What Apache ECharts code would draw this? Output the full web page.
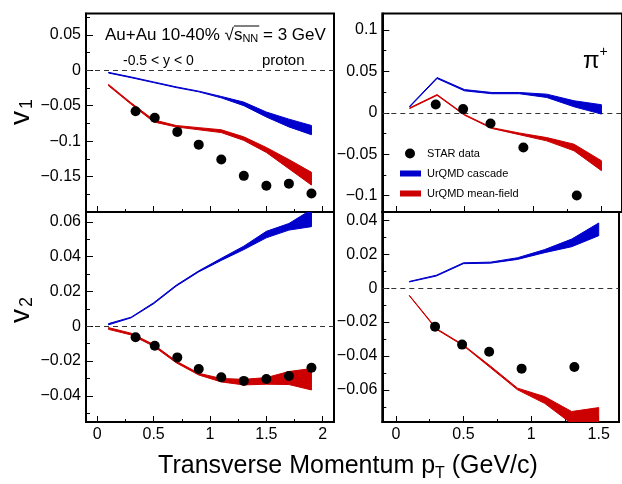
<!DOCTYPE html>
<html><head><meta charset="utf-8">
<script src="https://cdn.jsdelivr.net/npm/echarts@6/dist/echarts.min.js"></script>
<style>html,body{margin:0;padding:0;background:#fff}#c{width:622px;height:484px}</style>
</head><body><div id="c"></div>
<script>
// ---------------- data ----------------
const protonX = [0.1,0.3,0.5,0.7,0.9,1.1,1.3,1.5,1.7,1.9];
const pionX   = [0.1,0.3,0.5,0.7,0.9,1.1,1.3,1.5];

const starProtonPt = [0.34,0.51,0.71,0.9,1.1,1.3,1.5,1.7,1.9];
const starProtonV1 = [-0.058,-0.067,-0.087,-0.105,-0.126,-0.149,-0.163,-0.160,-0.174];
const starProtonV2 = [-0.0063,-0.0112,-0.0179,-0.0246,-0.0293,-0.0314,-0.0303,-0.0286,-0.0238];
const starPionPt = [0.29,0.49,0.69,0.93,1.32];
const starPionV1 = [0.010,0.0044,-0.0129,-0.042,-0.100];
const starPionV2 = [-0.0227,-0.0333,-0.0375,-0.0475,-0.0465];

const cascProtonV1Hi = [-0.003,-0.0095,-0.0165,-0.0235,-0.0295,-0.037,-0.045,-0.059,-0.069,-0.078];
const cascProtonV1Lo = [-0.004,-0.0105,-0.0175,-0.0245,-0.0305,-0.039,-0.050,-0.066,-0.080,-0.091];
const mfProtonV1Hi   = [-0.020,-0.046,-0.070,-0.078,-0.081,-0.084,-0.094,-0.109,-0.126,-0.144];
const mfProtonV1Lo   = [-0.022,-0.048,-0.073,-0.080,-0.084,-0.088,-0.099,-0.116,-0.139,-0.162];

const cascPionV1Hi = [0.008,0.0426,0.028,0.0245,0.0245,0.0225,0.0145,0.0097];
const cascPionV1Lo = [0.007,0.0414,0.0265,0.023,0.023,0.0185,0.0072,-0.0016];
const mfPionV1Hi   = [0.006,0.022,-0.002,-0.018,-0.0245,-0.030,-0.038,-0.058];
const mfPionV1Lo   = [0.005,0.021,-0.003,-0.019,-0.0265,-0.034,-0.046,-0.070];

const cascProtonV2Hi = [0.0015,0.0052,0.0135,0.0236,0.0318,0.039,0.046,0.0545,0.059,0.067];
const cascProtonV2Lo = [0.0008,0.0048,0.0129,0.023,0.0312,0.0378,0.044,0.0508,0.0552,0.0572];
const mfProtonV2Hi   = [-0.0008,-0.004,-0.0105,-0.020,-0.027,-0.030,-0.0305,-0.0295,-0.026,-0.0243];
const mfProtonV2Lo   = [-0.0018,-0.005,-0.0115,-0.021,-0.028,-0.032,-0.0337,-0.0333,-0.0335,-0.0366];

const cascPionV2Hi = [0.004,0.0077,0.015,0.0154,0.018,0.0228,0.029,0.0385];
const cascPionV2Lo = [0.0037,0.0072,0.0145,0.0148,0.017,0.021,0.0245,0.031];
const mfPionV2Hi   = [-0.0042,-0.0238,-0.0335,-0.046,-0.059,-0.064,-0.0728,-0.0705];
const mfPionV2Lo   = [-0.0045,-0.0243,-0.034,-0.047,-0.060,-0.068,-0.080,-0.082];

const legendNames = ['STAR data','UrQMD cascade','UrQMD mean-field'];

// ---------------- helpers ----------------
const FONT = '"Liberation Sans", Arial, sans-serif';
const BLUE = '#0000cc', RED = '#cc0000';
const mctx = document.createElement('canvas').getContext('2d');
function tw(t, size){ mctx.font = size + 'px ' + FONT; return mctx.measureText(t).width; }
function run(parts, x, y, align){
  const total = parts.reduce((s,p)=>s+tw(p[0],p[1]),0);
  let cx = align==='center' ? x-total/2 : x;
  const els=[], pos=[];
  parts.forEach(p=>{
    pos.push(cx);
    els.push({type:'text', x:cx, y:y+(p[2]||0), silent:true,
      style:{text:p[0], fontSize:p[1], fontFamily:FONT, fill:'#000', align:'left', verticalAlign:'middle'}});
    cx += tw(p[0],p[1]);
  });
  pos.push(cx);
  return {els, pos};
}
function fmt(step, min, max){
  return v => {
    if (Math.abs(v-min)<1e-9 || Math.abs(v-max)<1e-9) return '';
    const r=v/step; if (Math.abs(r-Math.round(r))>1e-6) return '';
    return String(+v.toFixed(4)).replace('-', '\u2212'); };
}
const grids = [
  {left:86, top:13.5, width:248, height:198.5},
  {left:382.3, top:13.5, width:241.5, height:198.5},
  {left:86, top:212, width:248, height:210},
  {left:382.3, top:212, width:241.5, height:210}
].map(g=>Object.assign({show:true, borderColor:'#000', borderWidth:2, backgroundColor:'transparent', containLabel:false}, g));

function xAx(i, min, max, showLabel, splitNumber){
  return {type:'value', gridIndex:i, min, max, splitNumber,
    axisLine:{show:true, onZero:false, lineStyle:{color:'#000', width:2}},
    axisTick:{show:true, inside:true, length:6, lineStyle:{color:'#000', width:1}},
    minorTick:{show:true, splitNumber:2, length:3, lineStyle:{color:'#000', width:1}},
    splitLine:{show:false}, minorSplitLine:{show:false},
    axisLabel:{show:showLabel, color:'#000', fontSize:16, fontFamily:FONT, margin:5, formatter:fmt(0.5, min, max)}};
}
function yAx(i, min, max, step, splitNumber){
  return {type:'value', gridIndex:i, min, max, splitNumber,
    axisLine:{show:true, onZero:false, lineStyle:{color:'#000', width:2}},
    axisTick:{show:true, inside:true, length:7, lineStyle:{color:'#000', width:1}},
    minorTick:{show:true, splitNumber:2, length:4, lineStyle:{color:'#000', width:1}},
    splitLine:{show:false}, minorSplitLine:{show:false},
    axisLabel:{show:true, color:'#000', fontSize:16, fontFamily:FONT, margin:5, formatter:fmt(step, min, max)}};
}
function band(name, gi, xs, lo, hi, color){
  return {type:'custom', name, xAxisIndex:gi, yAxisIndex:gi, clip:true, silent:true, z:2,
    data: xs.map((x,k)=>[x, lo[k], hi[k]]),
    encode:{x:0, y:[1,2]},
    renderItem(params, api){
      if (params.dataIndex!==0) return;
      const pts=[];
      for (let k=0;k<xs.length;k++) pts.push(api.coord([xs[k],hi[k]]));
      for (let k=xs.length-1;k>=0;k--) pts.push(api.coord([xs[k],lo[k]]));
      return {type:'polygon', shape:{points:pts}, style:{fill:color, stroke:color, lineWidth:1}};
    }};
}
function stars(gi, xs, ys){
  return {type:'scatter', name:legendNames[0], xAxisIndex:gi, yAxisIndex:gi, z:5,
    symbol:'circle', symbolSize:10, itemStyle:{color:'#000', opacity:1},
    data: xs.map((x,k)=>[x, ys[k]]),
    markLine:{silent:true, symbol:'none', label:{show:false}, z:1,
      lineStyle:{color:'#333', type:[5,4], width:1}, data:[{yAxis:0}]}};
}

// ---------------- texts ----------------
const gfx = [];
const l1 = run([['Au+Au 10-40% ',17],['\u221A',17],['s',17],['NN',11,4],[' = 3 GeV',17]], 105, 35, 'left');
gfx.push(...l1.els);
gfx.push({type:'line', silent:true, shape:{x1:l1.pos[2], y1:26, x2:l1.pos[4]+1, y2:26}, style:{stroke:'#000', lineWidth:1}});
gfx.push(...run([['-0.5 < y < 0',14]], 123, 61, 'left').els);
gfx.push(...run([['proton',15]], 262, 61, 'left').els);
gfx.push(...run([['\u03C0',24],['+',14,-9]], 583, 61, 'left').els);
// x title
gfx.push(...run([['Transverse Momentum p',25],['T',16,8],[' (GeV/c)',25]], 348, 466, 'center').els);
// y titles (rotated)
function ytitle(sub, cy){
  gfx.push({type:'text', x:21, y:cy, rotation:Math.PI/2, silent:true,
    style:{text:'v', fontSize:28, fontFamily:FONT, fill:'#000', align:'center', verticalAlign:'middle'}});
  gfx.push({type:'text', x:27, y:cy-14, rotation:Math.PI/2, silent:true,
    style:{text:sub, fontSize:18, fontFamily:FONT, fill:'#000', align:'center', verticalAlign:'middle'}});
}
ytitle('1', 118);
ytitle('2', 316);
// legend
gfx.push({type:'circle', silent:true, shape:{cx:410, cy:153.5, r:5}, style:{fill:'#000'}});
gfx.push({type:'rect', silent:true, shape:{x:400, y:170.5, width:21, height:6}, style:{fill:BLUE}});
gfx.push({type:'rect', silent:true, shape:{x:400, y:190.5, width:21, height:6}, style:{fill:RED}});
gfx.push(...run([[legendNames[0],11]], 427, 153.5, 'left').els);
gfx.push(...run([[legendNames[1],11]], 427, 173.5, 'left').els);
gfx.push(...run([[legendNames[2],11]], 427, 193.5, 'left').els);

const option = {
  animation:false,
  backgroundColor:'#fff',
  grid: grids,
  xAxis: [xAx(0,-0.1,2.1,false,5), xAx(1,-0.1,1.65,false,4), xAx(2,-0.1,2.1,true,5), xAx(3,-0.1,1.65,true,4)],
  yAxis: [yAx(0,-0.2,0.08,0.05,5), yAx(1,-0.12,0.12,0.05,5), yAx(2,-0.055,0.0656,0.02,6), yAx(3,-0.079,0.045,0.02,6)],
  series: [
    band(legendNames[1],0,protonX,cascProtonV1Lo,cascProtonV1Hi,BLUE),
    band(legendNames[2],0,protonX,mfProtonV1Lo,mfProtonV1Hi,RED),
    stars(0,starProtonPt,starProtonV1),
    band(legendNames[1],1,pionX,cascPionV1Lo,cascPionV1Hi,BLUE),
    band(legendNames[2],1,pionX,mfPionV1Lo,mfPionV1Hi,RED),
    stars(1,starPionPt,starPionV1),
    band(legendNames[1],2,protonX,cascProtonV2Lo,cascProtonV2Hi,BLUE),
    band(legendNames[2],2,protonX,mfProtonV2Lo,mfProtonV2Hi,RED),
    stars(2,starProtonPt,starProtonV2),
    band(legendNames[1],3,pionX,cascPionV2Lo,cascPionV2Hi,BLUE),
    band(legendNames[2],3,pionX,mfPionV2Lo,mfPionV2Hi,RED),
    stars(3,starPionPt,starPionV2)
  ],
  graphic: gfx
};
const chart = echarts.init(document.getElementById('c'), null, {renderer:'canvas'});
chart.setOption(option);
</script>
</body></html>
